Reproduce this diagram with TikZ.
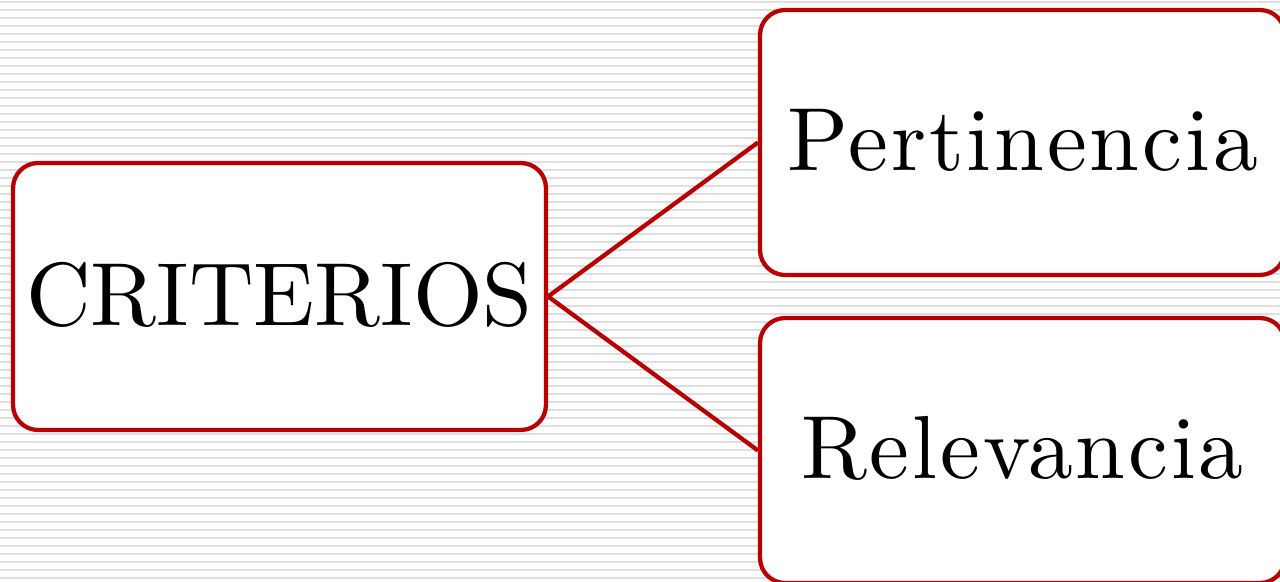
\documentclass[tikz,border=0pt]{standalone}
\usepackage{fontspec}
\usetikzlibrary{positioning, calc}

\newfontfamily\critfont{lmroman10-regular}[Extension=.otf]
\newfontfamily\critwide{lmroman10-regular}[Extension=.otf, LetterSpace=3.2]

\definecolor{boxred}{RGB}{186,0,0}
\definecolor{stripe}{RGB}{222,222,222}

\tikzset{
    crit/.style={draw=boxred, fill=white, line width=0.085cm, rounded corners=0.5cm,
        inner sep=0pt, font=\critfont\fontsize{51}{60}\selectfont},
    critlow/.style={crit, font=\critwide\fontsize{51}{60}\selectfont},
    link/.style={draw=boxred, line width=0.085cm}
}

\begin{document}
\begin{tikzpicture}[x=0.02cm, y=-0.02cm]

        % BACKGROUND
        \useasboundingbox (0,0) rectangle (1280,581);
        \fill[white] (0,0) rectangle (1280,581);
        \foreach \k in {0,...,72}
            \draw[stripe, line width=0.04cm] (0,2+8*\k) -- (1280,2+8*\k);

        % BOXES
        \node[crit, minimum width=10.66cm, minimum height=5.34cm] (crit) at (279.5,296.5) {\raisebox{3pt}{CRITERIOS}};
        \node[critlow, minimum width=10.5cm, minimum height=5.3cm] (pert) at (1022.5,142.5) {\raisebox{3pt}{Pertinencia}};
        \node[critlow, minimum width=10.5cm, minimum height=5.3cm] (rele) at (1022.5,450.5) {\raisebox{3pt}{Relevancia}};

        % LINKS
        \draw[link] (crit.east) -- (pert.west);
        \draw[link] (crit.east) -- (rele.west);

    \end{tikzpicture}
\end{document}
